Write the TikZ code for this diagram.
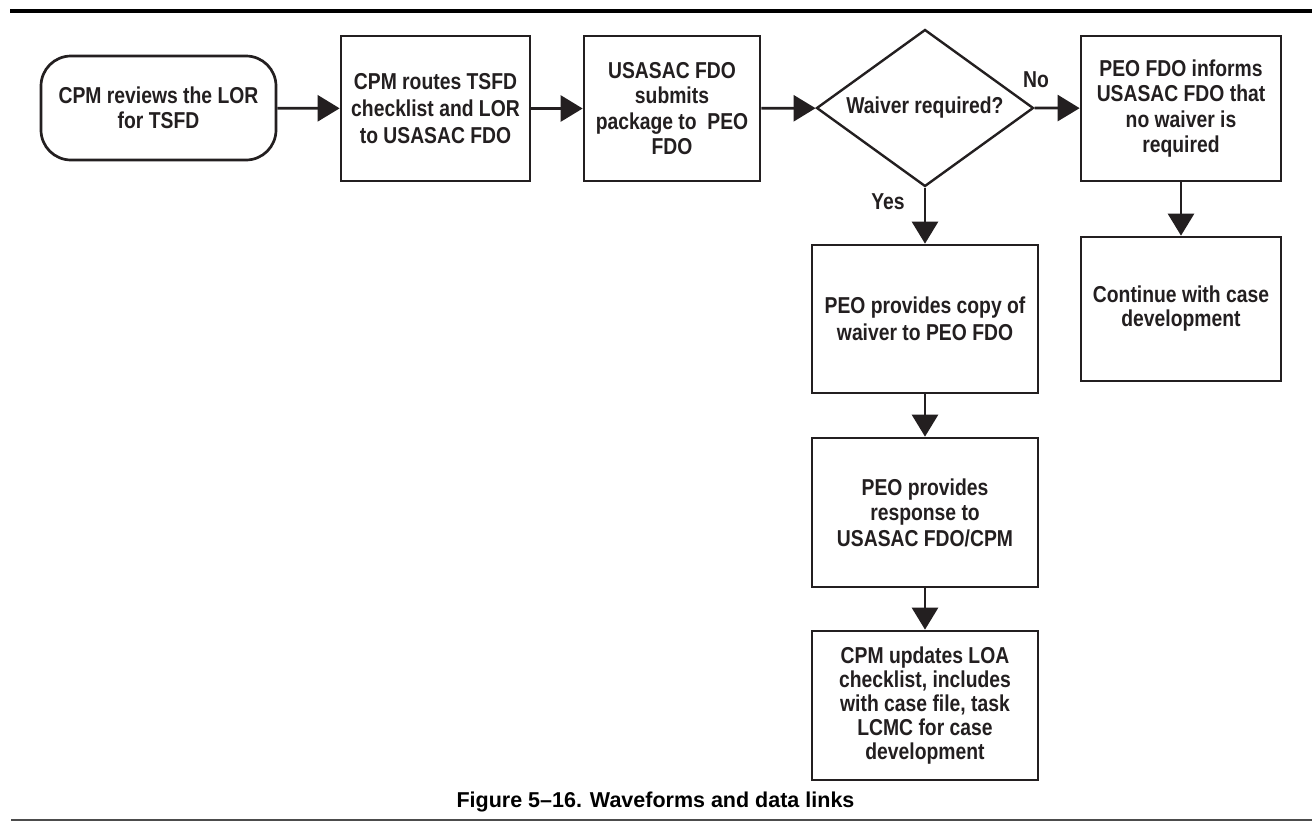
\documentclass[tikz,border=0pt]{standalone}
\usepackage{fontspec}
\usetikzlibrary{shapes.geometric,arrows.meta}
\newfontfamily\boxfont[FakeStretch=0.84]{Liberation Sans Bold}
\newfontfamily\capfont{Liberation Sans}
\definecolor{ink}{HTML}{231F20}
\tikzset{
  proc/.style={draw=ink, line width=2.7pt, inner sep=0pt, align=center, text=ink,
    font=\boxfont\fontsize{23}{25.5}\selectfont},
  term/.style={proc, rounded corners=30pt},
  decision/.style={proc, diamond, aspect=1.38, line width=2.4pt},
  lbl/.style={text=ink, inner sep=0pt, font=\boxfont\fontsize{23}{25.5}\selectfont},
  arr/.style={draw=ink, line width=2.7pt, -{Triangle[length=22pt,width=26pt]}},
}
\begin{document}
\begin{tikzpicture}[x=1pt,y=-1pt]
\useasboundingbox (0,0) rectangle (1312,823);
\fill[white] (0,0) rectangle (1312,823);
% rules
\draw[line width=4pt, black] (10,11) -- (1312,11);
\draw[line width=2pt, black!70] (11,820) -- (1312,820);
% nodes
\node[term, minimum width=235pt, minimum height=104pt] (b1) at (158.5,108) {CPM reviews the LOR\\for TSFD};
\node[proc, minimum width=189pt, minimum height=145pt, font=\boxfont\fontsize{23}{27}\selectfont] (b2) at (435.5,108.5) {CPM routes TSFD\\checklist and LOR\\to USASAC FDO};
\node[proc, minimum width=176pt, minimum height=145pt] (b3) at (672,108.5) {USASAC FDO\\submits\\package to~~PEO\\FDO};
\node[decision, minimum width=217pt, minimum height=157pt] (dia) at (925,108) {Waiver required?};
\node[proc, minimum width=200pt, minimum height=145pt] (b4) at (1181,108.5) {PEO FDO informs\\USASAC FDO that\\no waiver is\\required};
\node[proc, minimum width=200pt, minimum height=144pt, font=\boxfont\fontsize{23}{24}\selectfont] (b8) at (1181,309) {Continue with case\\development};
\node[proc, minimum width=226pt, minimum height=148pt, font=\boxfont\fontsize{23}{27}\selectfont] (b5) at (925,319) {PEO provides copy of\\waiver to PEO FDO};
\node[proc, minimum width=226pt, minimum height=149pt] (b6) at (925,512.5) {PEO provides\\response to\\USASAC FDO/CPM};
\node[proc, minimum width=226pt, minimum height=149pt, font=\boxfont\fontsize{23}{24}\selectfont] (b7) at (925,705.5) {CPM updates LOA\\checklist, includes\\with case file, task\\LCMC for case\\development};
% labels
\node[lbl] (no) at (1036,80) {No};
\node[lbl] (yes) at (888,202) {Yes};
% connectors
\draw[arr] (b1) -- (b2);
\draw[arr] (b2) -- (b3);
\draw[arr] (b3) -- (dia);
\draw[arr] (dia.east) -- (b4);
\draw[arr] (b4) -- (b8);
\draw[arr] (dia.south) -- (b5);
\draw[arr] (b5) -- (b6);
\draw[arr] (b6) -- (b7);
% caption
\node[anchor=base, inner sep=0pt, font=\capfont\bfseries\fontsize{21.5}{24}\selectfont] (cap) at (655.5,807) {Figure 5–16. Waveforms and data links};
\end{tikzpicture}
\end{document}
